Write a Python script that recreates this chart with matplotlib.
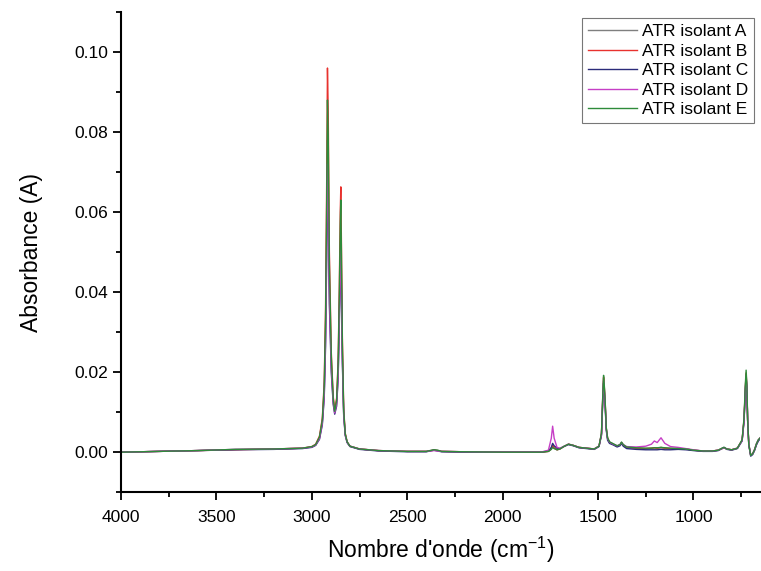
import matplotlib
matplotlib.use("Agg")
import matplotlib.pyplot as plt
from matplotlib.ticker import MultipleLocator, FormatStrFormatter

plt.rcParams["font.family"] = ["Liberation Sans", "DejaVu Sans"]
plt.rcParams["mathtext.default"] = "regular"

# wavenumbers (cm-1), shared by all spectra
wavenumber = [
    4000, 3800, 3600, 3400, 3200, 3050, 3000, 2980, 2960, 2945,
    2935, 2928, 2922, 2918, 2914, 2908, 2898, 2888, 2880, 2870,
    2862, 2856, 2851, 2848, 2845, 2840, 2833, 2825, 2815, 2800,
    2750, 2650, 2500, 2400, 2360, 2340, 2320, 2200, 2000, 1900,
    1800, 1760, 1745, 1738, 1730, 1715, 1700, 1680, 1655, 1630,
    1600, 1560, 1520, 1495, 1482, 1475, 1471, 1467, 1462, 1457,
    1450, 1440, 1420, 1400, 1385, 1377, 1368, 1350, 1300, 1250,
    1220, 1205, 1190, 1170, 1150, 1120, 1080, 1040, 1000, 950,
    900, 870, 850, 840, 825, 800, 770, 745, 735, 728,
    724, 720, 716, 710, 700, 690, 680, 670, 660, 650,
]

isolant_a = [
    0.0000, 0.0002, 0.0004, 0.0007, 0.0008, 0.0010, 0.0013, 0.0018, 0.0035, 0.0075,
    0.0150, 0.0300, 0.0560, 0.0780, 0.0700, 0.0420, 0.0220, 0.0130, 0.0100, 0.0125,
    0.0200, 0.0350, 0.0500, 0.0560, 0.0450, 0.0250, 0.0100, 0.0045, 0.0025, 0.0015,
    0.0008, 0.0004, 0.0002, 0.0002, 0.0006, 0.0004, 0.0002, 0.0001, 0.0000, 0.0000,
    0.0000, 0.0002, 0.0008, 0.0015, 0.0010, 0.0006, 0.0008, 0.0014, 0.0020, 0.0017,
    0.0012, 0.0010, 0.0008, 0.0015, 0.0045, 0.0140, 0.0185, 0.0160, 0.0115, 0.0060,
    0.0035, 0.0025, 0.0020, 0.0015, 0.0018, 0.0025, 0.0018, 0.0012, 0.0010, 0.0009,
    0.0010, 0.0011, 0.0010, 0.0011, 0.0010, 0.0009, 0.0009, 0.0008, 0.0005, 0.0003,
    0.0003, 0.0005, 0.0010, 0.0012, 0.0008, 0.0006, 0.0010, 0.0030, 0.0080, 0.0160,
    0.0195, 0.0160, 0.0080, 0.0020, -0.0008, -0.0005, 0.0005, 0.0020, 0.0030, 0.0035,
]

isolant_b = [
    0.0000, 0.0002, 0.0004, 0.0006, 0.0008, 0.0010, 0.0014, 0.0020, 0.0040, 0.0085,
    0.0175, 0.0360, 0.0680, 0.0960, 0.0850, 0.0500, 0.0250, 0.0140, 0.0105, 0.0135,
    0.0230, 0.0410, 0.0600, 0.0663, 0.0530, 0.0290, 0.0110, 0.0048, 0.0026, 0.0015,
    0.0008, 0.0004, 0.0002, 0.0002, 0.0005, 0.0004, 0.0002, 0.0001, 0.0000, 0.0000,
    0.0000, 0.0002, 0.0009, 0.0017, 0.0011, 0.0006, 0.0008, 0.0014, 0.0020, 0.0017,
    0.0012, 0.0010, 0.0008, 0.0015, 0.0046, 0.0142, 0.0188, 0.0162, 0.0118, 0.0060,
    0.0035, 0.0025, 0.0020, 0.0015, 0.0018, 0.0024, 0.0018, 0.0012, 0.0010, 0.0009,
    0.0010, 0.0011, 0.0010, 0.0012, 0.0010, 0.0009, 0.0009, 0.0008, 0.0005, 0.0003,
    0.0003, 0.0005, 0.0009, 0.0011, 0.0008, 0.0006, 0.0010, 0.0030, 0.0082, 0.0162,
    0.0198, 0.0162, 0.0080, 0.0020, -0.0008, -0.0004, 0.0006, 0.0020, 0.0030, 0.0036,
]

isolant_c = [
    0.0000, 0.0002, 0.0004, 0.0006, 0.0007, 0.0009, 0.0012, 0.0017, 0.0032, 0.0068,
    0.0135, 0.0265, 0.0490, 0.0680, 0.0610, 0.0370, 0.0200, 0.0120, 0.0095, 0.0115,
    0.0185, 0.0315, 0.0450, 0.0500, 0.0400, 0.0225, 0.0092, 0.0042, 0.0024, 0.0014,
    0.0007, 0.0003, 0.0001, 0.0001, 0.0005, 0.0003, 0.0001, 0.0000, 0.0000, 0.0000,
    0.0000, 0.0003, 0.0012, 0.0022, 0.0016, 0.0010, 0.0009, 0.0014, 0.0019, 0.0016,
    0.0011, 0.0009, 0.0007, 0.0014, 0.0042, 0.0130, 0.0172, 0.0150, 0.0108, 0.0055,
    0.0030, 0.0022, 0.0018, 0.0013, 0.0016, 0.0022, 0.0015, 0.0009, 0.0007, 0.0006,
    0.0006, 0.0006, 0.0006, 0.0007, 0.0006, 0.0006, 0.0007, 0.0006, 0.0004, 0.0002,
    0.0002, 0.0004, 0.0009, 0.0012, 0.0007, 0.0005, 0.0009, 0.0028, 0.0076, 0.0152,
    0.0188, 0.0155, 0.0078, 0.0018, -0.0010, -0.0006, 0.0004, 0.0018, 0.0028, 0.0034,
]

isolant_d = [
    0.0000, 0.0002, 0.0004, 0.0007, 0.0008, 0.0010, 0.0013, 0.0018, 0.0034, 0.0072,
    0.0142, 0.0280, 0.0520, 0.0720, 0.0650, 0.0390, 0.0210, 0.0125, 0.0098, 0.0120,
    0.0190, 0.0330, 0.0470, 0.0520, 0.0415, 0.0235, 0.0095, 0.0043, 0.0025, 0.0015,
    0.0008, 0.0004, 0.0002, 0.0002, 0.0004, 0.0003, 0.0002, 0.0001, 0.0000, 0.0000,
    0.0000, 0.0005, 0.0035, 0.0065, 0.0035, 0.0012, 0.0010, 0.0014, 0.0020, 0.0017,
    0.0012, 0.0010, 0.0008, 0.0015, 0.0044, 0.0135, 0.0178, 0.0155, 0.0112, 0.0058,
    0.0034, 0.0025, 0.0020, 0.0016, 0.0019, 0.0024, 0.0019, 0.0014, 0.0013, 0.0015,
    0.0020, 0.0028, 0.0024, 0.0036, 0.0022, 0.0014, 0.0012, 0.0009, 0.0006, 0.0003,
    0.0003, 0.0005, 0.0009, 0.0011, 0.0008, 0.0006, 0.0010, 0.0029, 0.0078, 0.0155,
    0.0190, 0.0158, 0.0080, 0.0020, -0.0007, -0.0004, 0.0006, 0.0021, 0.0031, 0.0036,
]

isolant_e = [
    0.0000, 0.0002, 0.0004, 0.0007, 0.0008, 0.0010, 0.0014, 0.0019, 0.0038, 0.0080,
    0.0165, 0.0335, 0.0630, 0.0880, 0.0790, 0.0470, 0.0240, 0.0135, 0.0102, 0.0130,
    0.0220, 0.0390, 0.0570, 0.0630, 0.0505, 0.0275, 0.0105, 0.0046, 0.0026, 0.0015,
    0.0008, 0.0004, 0.0002, 0.0002, 0.0006, 0.0005, 0.0002, 0.0001, 0.0000, 0.0000,
    0.0000, 0.0002, 0.0007, 0.0012, 0.0009, 0.0006, 0.0008, 0.0014, 0.0020, 0.0017,
    0.0012, 0.0010, 0.0008, 0.0015, 0.0048, 0.0145, 0.0192, 0.0165, 0.0120, 0.0062,
    0.0036, 0.0026, 0.0021, 0.0016, 0.0019, 0.0025, 0.0019, 0.0013, 0.0011, 0.0010,
    0.0010, 0.0011, 0.0011, 0.0012, 0.0011, 0.0010, 0.0009, 0.0008, 0.0005, 0.0003,
    0.0003, 0.0005, 0.0010, 0.0012, 0.0008, 0.0006, 0.0010, 0.0031, 0.0085, 0.0170,
    0.0205, 0.0168, 0.0082, 0.0020, -0.0008, -0.0004, 0.0006, 0.0021, 0.0031, 0.0036,
]

labels = ["ATR isolant A", "ATR isolant B", "ATR isolant C", "ATR isolant D", "ATR isolant E"]
colors = ["#7f7f7f", "#e8322e", "#2b2b7a", "#c63fc6", "#2e8b3a"]
series = [isolant_a, isolant_b, isolant_c, isolant_d, isolant_e]

fig = plt.figure(figsize=(7.61, 5.71), dpi=100)
ax = fig.add_axes([0.159, 0.138, 0.840, 0.841])

for values, label, color in zip(series, labels, colors):
    ax.plot(wavenumber, values, color=color, lw=1.0, label=label)

ax.set_xlim(4000, 650)
ax.set_ylim(-0.01, 0.11)
ax.xaxis.set_major_locator(MultipleLocator(500))
ax.xaxis.set_minor_locator(MultipleLocator(250))
ax.yaxis.set_major_locator(MultipleLocator(0.02))
ax.yaxis.set_minor_locator(MultipleLocator(0.01))
ax.yaxis.set_major_formatter(FormatStrFormatter("%.2f"))

for side in ("top", "right"):
    ax.spines[side].set_visible(False)
for side in ("left", "bottom"):
    ax.spines[side].set_linewidth(1.5)

ax.tick_params(which="major", direction="out", length=6, width=1.3, labelsize=12.5)
ax.tick_params(axis="x", which="major", pad=7)
ax.tick_params(which="minor", direction="out", length=3.5, width=1.3)

ax.set_xlabel("Nombre d'onde (cm$^{-1}$)", fontsize=16.5, labelpad=7)
ax.set_ylabel("Absorbance (A)", fontsize=16.5, labelpad=22)

leg = ax.legend(loc="upper right", fontsize=12.5, frameon=True, fancybox=False,
                handlelength=2.8, borderaxespad=0.35, labelspacing=0.25,
                borderpad=0.35, handletextpad=0.3)
leg.get_frame().set_edgecolor("#555555")
leg.get_frame().set_linewidth(0.8)

fig.savefig("out.png", dpi=100)
